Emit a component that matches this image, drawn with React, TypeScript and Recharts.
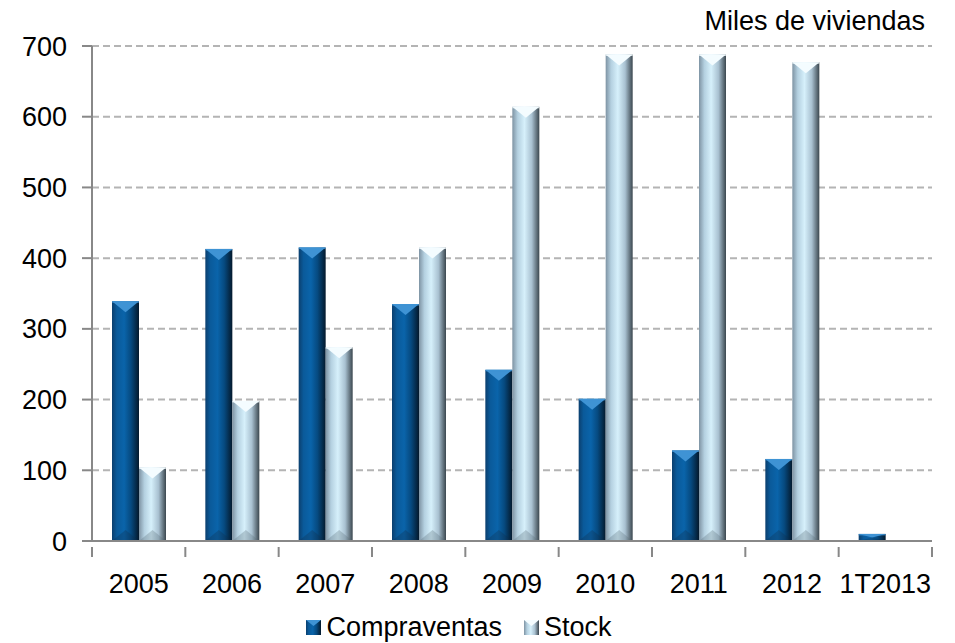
import { BarChart, Bar, XAxis, YAxis, CartesianGrid, Legend } from "recharts";

const years = ["2005", "2006", "2007", "2008", "2009", "2010", "2011", "2012", "1T2013"];
const compraventas = [339, 413, 415, 335, 242, 201, 128, 116, 10];
const stock: (number | null)[] = [104, 198, 274, 415, 614, 688, 688, 677, null];
const yTicks = [0, 100, 200, 300, 400, 500, 600, 700];

const data = years.map((year, i) => ({
  year,
  Compraventas: compraventas[i],
  Stock: stock[i],
}));

const font = "'Liberation Sans', Arial, sans-serif";

const legendItems = [
  { name: "Compraventas", gid: "gC", cap: "#3f93d4" },
  { name: "Stock", gid: "gS", cap: "#f4fcff" },
];

function BevelBar(props: any) {
  const { x, y, width, height, gid, cap, base } = props;
  if (!height || height <= 0) return null;
  const b = Math.min(11, height / 2);
  return (
    <g>
      <rect x={x} y={y} width={width} height={height} fill={`url(#${gid})`} />
      <polygon
        points={`${x},${y} ${x + width},${y} ${x + width / 2},${y + b}`}
        fill={cap}
      />
      <rect x={x} y={y} width={width} height={1.5} fill={cap} opacity={0.7} />
      <polygon
        points={`${x},${y + height} ${x + width},${y + height} ${x + width / 2},${y + height - b}`}
        fill={base}
        opacity={0.3}
      />
    </g>
  );
}

// category label plus tick marks on the band edges
function YearTick(props: any) {
  const { x, y, payload, index, width, visibleTicksCount } = props;
  const bw = width / visibleTicksCount;
  const top = y - 27;
  return (
    <g>
      <line x1={x - bw / 2} x2={x - bw / 2} y1={top} y2={top + 10} stroke="#888" strokeWidth={2} />
      {index === visibleTicksCount - 1 && (
        <line x1={x + bw / 2} x2={x + bw / 2} y1={top} y2={top + 10} stroke="#888" strokeWidth={2} />
      )}
      <text x={x} y={y} dy="0.71em" textAnchor="middle" fill="#000" fontSize={27} fontFamily={font}>
        {payload.value}
      </text>
    </g>
  );
}

function LegendBox() {
  return (
    <div style={{ display: "flex", justifyContent: "center", alignItems: "center", fontSize: 27, lineHeight: "30px", color: "#000", paddingLeft: 8 }}>
      {legendItems.map((it) => (
        <div key={it.name} style={{ display: "flex", alignItems: "center", marginRight: 22 }}>
          <svg width={15} height={15} style={{ marginRight: 5 }}>
            <rect x={0} y={0} width={15} height={15} fill={`url(#${it.gid})`} />
            <polygon points="0,0 15,0 7.5,6" fill={it.cap} />
          </svg>
          <span>{it.name}</span>
        </div>
      ))}
    </div>
  );
}

export default function App() {
  return (
    <div style={{ position: "absolute", left: 0, top: 0, width: 955, height: 643, background: "#fff", fontFamily: font }}>
      <div
        style={{
          position: "absolute",
          right: 30,
          top: 8,
          fontSize: 27,
          lineHeight: "27px",
          color: "#000",
          zIndex: 2,
        }}
      >
        Miles de viviendas
      </div>
      <BarChart
        width={955}
        height={643}
        data={data}
        margin={{ top: 46, right: 23, left: 0, bottom: 1 }}
        barGap={0}
        barCategoryGap="21%"
      >
        <defs>
          <linearGradient id="gC" x1="0" y1="0" x2="1" y2="0">
            <stop offset="0%" stopColor="#0b3f6e" />
            <stop offset="18%" stopColor="#0a5a9a" />
            <stop offset="45%" stopColor="#0a64aa" />
            <stop offset="70%" stopColor="#064a80" />
            <stop offset="100%" stopColor="#04192c" />
          </linearGradient>
          <linearGradient id="gS" x1="0" y1="0" x2="1" y2="0">
            <stop offset="0%" stopColor="#7e93a3" />
            <stop offset="20%" stopColor="#b4d0e0" />
            <stop offset="45%" stopColor="#d6f0fb" />
            <stop offset="72%" stopColor="#a9c1d1" />
            <stop offset="100%" stopColor="#3b474f" />
          </linearGradient>
        </defs>
        <CartesianGrid vertical={false} stroke="#b4b4b4" strokeWidth={2} strokeDasharray="7 4" />
        <XAxis
          dataKey="year"
          height={71}
          tickLine={false}
          tickMargin={27}
          axisLine={{ stroke: "#888", strokeWidth: 2 }}
          tick={<YearTick />}
          interval={0}
        />
        <YAxis
          width={92}
          domain={[0, 700]}
          ticks={yTicks}
          tickSize={10}
          tickMargin={15}
          axisLine={{ stroke: "#888", strokeWidth: 2 }}
          tickLine={{ stroke: "#888", strokeWidth: 2 }}
          tick={{ fill: "#000", fontSize: 27, fontFamily: font }}
        />
        <Legend verticalAlign="bottom" content={() => <LegendBox />} />
        <Bar
          dataKey="Compraventas"
          fill="#0a4f88"
          barSize={27}
          isAnimationActive={false}
          shape={(p: any) => <BevelBar {...p} gid="gC" cap="#3f93d4" base="#0f2f4d" />}
        />
        <Bar
          dataKey="Stock"
          fill="#b9d3e2"
          barSize={27}
          isAnimationActive={false}
          shape={(p: any) => <BevelBar {...p} gid="gS" cap="#f4fcff" base="#5b6c78" />}
        />
      </BarChart>
    </div>
  );
}
